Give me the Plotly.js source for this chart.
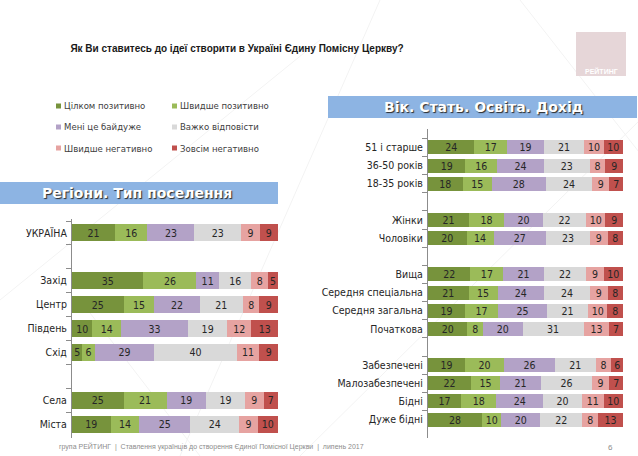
<!DOCTYPE html>
<html>
<head>
<meta charset="utf-8">
<script src="https://cdn.plot.ly/plotly-3.0.1.min.js"></script>
<style>html,body{margin:0;padding:0;background:#fff;}#chart{width:638px;height:456px;}</style>
</head>
<body>
<div id="chart"></div>
<script>
// ---------- DATA ----------
const seriesNames = ["Цілком позитивно", "Швидше позитивно", "Мені це байдуже", "Важко відповісти", "Швидше негативно", "Зовсім негативно"];
const seriesColors = ["#77933C", "#9BBB59", "#B3A2C7", "#D9D9D9", "#E6A3A1", "#C0504D"];

const leftCategories = ["УКРАЇНА", " ", "Захід", "Центр", "Південь", "Схід", "  ", "Села", "Міста"];
const leftRows = ["УКРАЇНА", "Захід", "Центр", "Південь", "Схід", "Села", "Міста"];
const leftCilkomPoz   = [21, 35, 25, 10, 5, 25, 19];
const leftShvydshePoz = [16, 26, 15, 14, 6, 21, 14];
const leftBaiduzhe    = [23, 11, 22, 33, 29, 19, 25];
const leftVazhko      = [23, 16, 21, 19, 40, 19, 24];
const leftShvydsheNeg = [9, 8, 8, 12, 11, 9, 9];
const leftZovsimNeg   = [9, 5, 9, 13, 9, 7, 10];

const rightCategories = ["51 і старше", "36-50 років", "18-35 років", " ", "Жінки", "Чоловіки", "  ",
  "Вища", "Середня спеціальна", "Середня загальна", "Початкова", "   ",
  "Забезпечені", "Малозабезпечені", "Бідні", "Дуже бідні"];
const rightRows = ["51 і старше", "36-50 років", "18-35 років", "Жінки", "Чоловіки",
  "Вища", "Середня спеціальна", "Середня загальна", "Початкова",
  "Забезпечені", "Малозабезпечені", "Бідні", "Дуже бідні"];
const rightCilkomPoz   = [24, 19, 18, 21, 20, 22, 21, 19, 20, 19, 22, 17, 28];
const rightShvydshePoz = [17, 16, 15, 18, 14, 17, 15, 17, 8, 20, 15, 18, 10];
const rightBaiduzhe    = [19, 24, 28, 20, 27, 21, 24, 25, 20, 26, 21, 24, 20];
const rightVazhko      = [21, 23, 24, 22, 23, 22, 24, 21, 31, 21, 26, 20, 22];
const rightShvydsheNeg = [10, 8, 9, 10, 9, 9, 9, 10, 13, 8, 9, 11, 8];
const rightZovsimNeg   = [10, 9, 7, 9, 8, 10, 8, 8, 7, 6, 7, 10, 13];

const chartTitle = "Як Ви ставитесь до ідеї створити в Україні Єдину Помісну Церкву?";
const leftHeader = "Регіони. Тип поселення";
const rightHeader = "Вік. Стать. Освіта. Дохід";
const footerText = "група РЕЙТИНГ  |  Ставлення українців до створення Єдиної Помісної Церкви  |  липень 2017";
const pageNumber = "6";
const logoText = "РЕЙТИНГ";

// ---------- BUILD ----------
const W = 638, H = 456;
const px = v => v / W;
const py = v => 1 - v / H;
const COND = "DejaVu Sans Condensed, Liberation Sans, sans-serif";
const ARIAL = "Liberation Sans, Arial, sans-serif";

const leftSeries = [leftCilkomPoz, leftShvydshePoz, leftBaiduzhe, leftVazhko, leftShvydsheNeg, leftZovsimNeg];
const rightSeries = [rightCilkomPoz, rightShvydshePoz, rightBaiduzhe, rightVazhko, rightShvydsheNeg, rightZovsimNeg];

const traces = [];
function addPanel(rows, series, cats, xa, ya, barWidth) {
  // invisible helper to register every category (incl. blank spacer rows)
  traces.push({type: "scatter", mode: "markers", x: cats.map(() => 0), y: cats,
    marker: {opacity: 0, size: 1}, hoverinfo: "skip", showlegend: false, xaxis: xa, yaxis: ya});
  series.forEach((vals, i) => {
    traces.push({
      type: "bar", orientation: "h", name: seriesNames[i],
      x: vals, y: rows, text: vals.map(String), texttemplate: "%{text}",
      textposition: "inside", insidetextanchor: "middle", constraintext: "none", textangle: 0,
      textfont: {family: COND, size: 10.5, color: "#262626"},
      marker: {color: seriesColors[i], line: {width: 0}},
      width: barWidth, showlegend: false, xaxis: xa, yaxis: ya, hoverinfo: "x+y+name"
    });
  });
}
addPanel(leftRows, leftSeries, leftCategories, "x", "y", 0.71);
addPanel(rightRows, rightSeries, rightCategories, "x2", "y2", 0.77);

const yCommon = {
  type: "category", categoryorder: "array", autorange: "reversed",
  showline: true, linecolor: "#8c8c8c", linewidth: 1,
  ticks: "outside", tickson: "boundaries", ticklen: 5, tickcolor: "#8c8c8c",
  tickfont: {family: COND, size: 10.5, color: "#262626"}, showgrid: false, zeroline: false,
  ticklabelstandoff: 2
};
const xCommon = {range: [0, 100], showgrid: false, zeroline: false, showticklabels: false, showline: false, fixedrange: true};

const shapes = [];
const annotations = [];

// faint decorative background lines
[[380, 0, 180, 456], [520, 0, 700, 230], [0, 300, 320, 40], [640, 120, 300, 456], [200, 456, 80, 300]].forEach(l => {
  shapes.push({type: "line", xref: "paper", yref: "paper", x0: px(l[0]), y0: py(l[1]), x1: px(l[2]), y1: py(l[3]),
    line: {color: "#f3f3f3", width: 1}, layer: "below"});
});

// header bars
shapes.push({type: "rect", xref: "paper", yref: "paper", x0: px(0), x1: px(278), y0: py(204), y1: py(182),
  fillcolor: "#8DB4E3", line: {width: 0}, layer: "below"});
shapes.push({type: "rect", xref: "paper", yref: "paper", x0: px(328), x1: px(637), y0: py(118), y1: py(96),
  fillcolor: "#8DB4E3", line: {width: 0}, layer: "below"});
const headerFont = {family: "DejaVu Sans, sans-serif", size: 14, color: "#ffffff", shadow: "1px 1px 1px #2a2a2a"};
annotations.push({xref: "paper", yref: "paper", x: px(137), y: py(193), text: "<b>" + leftHeader + "</b>", showarrow: false,
  xanchor: "center", yanchor: "middle", font: headerFont});
annotations.push({xref: "paper", yref: "paper", x: px(483), y: py(107), text: "<b>" + rightHeader + "</b>", showarrow: false,
  xanchor: "center", yanchor: "middle", font: headerFont});

// logo
shapes.push({type: "rect", xref: "paper", yref: "paper", x0: px(576), x1: px(626), y0: py(76), y1: py(32),
  fillcolor: "#E6D6D8", line: {width: 0}, layer: "below"});
annotations.push({xref: "paper", yref: "paper", x: px(601), y: py(71), text: "<b>" + logoText + "</b>", showarrow: false,
  xanchor: "center", yanchor: "middle", font: {family: ARIAL, size: 7, color: "#ffffff"}});

// custom two-column legend
const legCols = [56, 172], legRows = [106, 127, 148];
seriesNames.forEach((name, i) => {
  const cx = legCols[i % 2], cy = legRows[Math.floor(i / 2)];
  shapes.push({type: "rect", xref: "paper", yref: "paper", x0: px(cx), x1: px(cx + 5), y0: py(cy + 2.5), y1: py(cy - 2.5),
    fillcolor: seriesColors[i], line: {width: 0}});
  annotations.push({xref: "paper", yref: "paper", x: px(cx + 6), y: py(cy), text: name, showarrow: false,
    xanchor: "left", yanchor: "middle", font: {family: COND, size: 9.5, color: "#404040"}});
});

// footer
annotations.push({xref: "paper", yref: "paper", x: px(57), y: py(446), text: footerText, showarrow: false,
  xanchor: "left", yanchor: "middle", font: {family: ARIAL, size: 7, color: "#8c8c8c"}});
annotations.push({xref: "paper", yref: "paper", x: px(610), y: py(447), text: pageNumber, showarrow: false,
  xanchor: "center", yanchor: "middle", font: {family: ARIAL, size: 8, color: "#8c8c8c"}});

const layout = {
  width: W, height: H, margin: {l: 0, r: 0, t: 0, b: 0},
  paper_bgcolor: "#ffffff", plot_bgcolor: "rgba(0,0,0,0)",
  title: {text: "<b>" + chartTitle + "</b>", x: px(237), xanchor: "center", y: py(48), yanchor: "middle",
    font: {family: ARIAL, size: 10, color: "#1a1a1a"}},
  barmode: "stack", barnorm: "percent", showlegend: false,
  uniformtext: {minsize: 10.5, mode: "show"},
  xaxis: Object.assign({}, xCommon, {domain: [px(72), px(278)], anchor: "y"}),
  yaxis: Object.assign({}, yCommon, {categoryarray: leftCategories, domain: [py(438), py(219)], anchor: "x"}),
  xaxis2: Object.assign({}, xCommon, {domain: [px(428), px(623)], anchor: "y2"}),
  yaxis2: Object.assign({}, yCommon, {categoryarray: rightCategories, domain: [py(438), py(129)], anchor: "x2"}),
  shapes: shapes, annotations: annotations
};

Plotly.newPlot("chart", traces, layout, {displayModeBar: false, staticPlot: true});
</script>
</body>
</html>
